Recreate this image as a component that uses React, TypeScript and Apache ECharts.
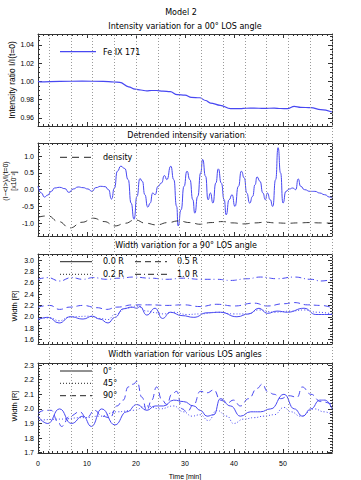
import React, { useEffect, useRef } from 'react';
import * as echarts from 'echarts';

// ---------- data ----------
const timeTickLabels = [0, 10, 20, 30, 40, 50];
const vLines = [2.25, 6.69, 11.13, 15.57, 20.01, 24.45, 28.89, 33.33, 37.77, 42.21, 46.65, 51.09, 55.53, 59.97];

const p1Ticks = [0.96, 0.98, 1.0, 1.02, 1.04];
const p2Ticks = [-1.0, -0.5, 0.0, 0.5, 1.0];
const p3Ticks = [1.6, 1.8, 2.0, 2.2, 2.4, 2.6, 2.8, 3.0];
const p4Ticks = [1.7, 1.8, 1.9, 2.0, 2.1, 2.2, 2.3];

const feIX171 = [
  [0, 1.0], [0.4, 0.9995], [4.5, 1.0], [9, 1.0003], [13.3, 1.0], [15.5, 0.9993], [16.7, 0.999],
  [18.5, 0.994], [19.8, 0.9914], [21, 0.9905], [22.2, 0.9895], [23.2, 0.99], [24.2, 0.99],
  [25.5, 0.9893], [27, 0.9887], [28.4, 0.9854], [30, 0.985], [31.3, 0.9825], [33, 0.982],
  [34.2, 0.979], [35.2, 0.9762], [37.2, 0.9737], [39.3, 0.97], [41.3, 0.97], [42.5, 0.9705],
  [44.1, 0.9707], [46.1, 0.9703], [48.2, 0.9707], [49.5, 0.9702], [50.9, 0.97], [52.3, 0.9726],
  [53.6, 0.9715], [55.7, 0.9711], [57.7, 0.969], [60, 0.9664],
];

const detrended = [
  [0.0, 0.1], [0.7, -0.1], [1.3, -0.22], [2.0, -0.16], [2.7, -0.05], [3.4, 0.05], [4.4, 0.07],
  [5.5, 0.03], [6.3, -0.08], [7.2, 0.02], [8.2, 0.08], [9.2, 0.06], [10.2, 0.02], [11.0, -0.05],
  [11.8, 0.06], [12.8, 0.1], [13.7, 0.09], [14.4, 0.0], [15.0, -0.28], [15.6, 0.05], [16.2, 0.55],
  [16.9, 0.7], [17.7, 0.63], [18.4, 0.3], [19.0, -0.4], [19.6, -0.88], [20.2, -0.2], [20.8, 0.33],
  [21.3, 0.25], [21.8, -0.15], [22.4, -0.52], [22.9, -0.4], [23.4, -0.1], [23.9, -0.15], [24.5, 0.1],
  [25.2, 0.2], [25.8, 0.42], [26.3, 0.3], [27.1, 0.7], [27.7, 0.3], [28.3, -0.5], [28.6, -1.08],
  [29.2, -0.6], [29.8, 0.1], [30.4, 0.55], [31.0, 0.3], [31.6, -0.3], [32.0, -0.7], [32.6, -0.2],
  [33.2, 0.5], [33.6, 0.9], [34.2, 0.4], [34.7, -0.3], [35.2, -0.1], [35.7, -0.4], [36.3, 0.2],
  [36.8, 0.62], [37.4, 0.2], [38.0, -0.3], [38.4, -0.75], [39.0, -0.3], [39.6, -0.15], [40.2, -0.5],
  [40.9, 0.1], [41.5, 0.55], [42.1, 0.35], [42.6, -0.1], [43.2, -0.4], [43.8, -0.2], [44.3, 0.15],
  [44.7, 0.38], [45.3, 0.25], [45.9, -0.1], [46.4, -0.3], [46.8, -0.1], [47.4, -0.3], [47.9, -0.5],
  [48.5, 0.3], [49.0, 1.25], [49.5, 0.5], [50.0, -0.4], [50.6, -0.05], [51.3, 0.02], [52.0, 0.05],
  [52.6, 0.0], [53.1, 0.32], [53.6, 0.1], [54.4, 0.0], [55.5, -0.05], [56.5, -0.05], [57.5, -0.1],
  [58.5, -0.15], [59.5, -0.22], [60.0, -0.25],
];

const density = [
  [0, -0.82], [2.0, -0.78], [4.2, -0.95], [6.5, -1.14], [9.0, -0.97], [11.3, -0.85], [13.5, -0.95],
  [15.7, -1.08], [17.8, -1.0], [19.8, -0.9], [22.0, -1.0], [24.2, -1.05], [26.5, -0.98], [28.7, -0.93],
  [31.0, -0.98], [33.1, -1.03], [35.3, -0.98], [37.6, -0.95], [39.8, -0.99], [42.0, -1.02],
  [44.2, -0.99], [46.4, -0.97], [48.6, -0.99], [50.9, -1.0], [53.1, -0.99], [55.3, -0.98],
  [57.7, -0.99], [60, -1.0],
];

const width00R = [
  [0, 1.95], [2.05, 1.99], [4.3, 1.89], [6.6, 2.0], [9.2, 1.96], [11.1, 2.01], [12.6, 1.96],
  [14.3, 1.89], [15.7, 1.99], [17.4, 2.14], [19.1, 2.17], [20.2, 2.15], [20.8, 2.18], [22.2, 2.03],
  [23.9, 2.15], [25.4, 1.97], [27.0, 2.08], [29.4, 2.02], [31.8, 1.99], [34.5, 2.07], [37.2, 2.08],
  [40.6, 2.0], [43.0, 2.05], [45.1, 2.15], [46.8, 2.06], [48.8, 2.1], [50.9, 2.08], [54.3, 2.15],
  [56.7, 2.04], [60, 2.04],
];
const width02R = [
  [0, 1.97], [2.4, 1.98], [4.3, 1.93], [6.6, 2.0], [10.6, 2.01], [12.6, 1.97], [14.3, 1.95],
  [15.7, 2.04], [18.1, 2.15], [20.2, 2.19], [22.2, 2.1], [24.2, 2.07], [25.6, 2.05], [27.7, 2.08],
  [30.4, 2.04], [33.1, 2.05], [36.5, 2.08], [40.0, 2.05], [42.7, 2.05], [45.1, 2.12], [48.2, 2.08],
  [51.6, 2.1], [54.3, 2.12], [57.0, 2.08], [60, 2.05],
];
const width05R = [
  [0, 2.17], [2.4, 2.2], [4.4, 2.13], [6.5, 2.17], [9.2, 2.2], [12.0, 2.16], [14.0, 2.13],
  [16.1, 2.17], [19.5, 2.21], [22.9, 2.21], [26.3, 2.2], [29.7, 2.21], [33.1, 2.18], [36.5, 2.22],
  [40.0, 2.19], [44.1, 2.24], [46.8, 2.19], [50.2, 2.23], [52.3, 2.25], [55.0, 2.21], [57.7, 2.2],
  [60, 2.16],
];
const width10R = [
  [0, 2.66], [2.0, 2.69], [4.4, 2.63], [6.8, 2.69], [9.2, 2.66], [11.3, 2.69], [14.0, 2.66],
  [16.7, 2.68], [19.5, 2.7], [22.9, 2.68], [26.3, 2.66], [29.7, 2.68], [33.1, 2.66], [36.5, 2.66],
  [39.3, 2.64], [42.7, 2.67], [45.4, 2.7], [48.8, 2.67], [52.3, 2.7], [55.7, 2.66], [57.7, 2.63],
  [60, 2.66],
];

const width0deg = [
  [0, 1.95], [2.0, 1.9], [4.4, 2.0], [6.8, 1.9], [9.2, 1.95], [10.9, 1.88], [13.0, 2.0],
  [15.7, 1.89], [18.1, 1.98], [20.2, 2.03], [22.2, 1.99], [23.9, 2.02], [25.6, 2.02], [27.7, 2.06],
  [29.7, 2.05], [31.8, 2.02], [33.1, 1.99], [34.5, 1.95], [35.9, 1.96], [37.2, 2.07], [39.3, 2.02],
  [41.3, 1.95], [43.4, 1.98], [45.4, 1.98], [47.5, 2.0], [50.2, 2.1], [52.3, 2.0], [54.0, 1.95],
  [55.7, 2.0], [57.5, 2.06], [58.6, 2.06], [60, 2.0],
];
const width45deg = [
  [0, 1.92], [4.4, 1.93], [9.2, 1.94], [12.6, 1.95], [16.1, 1.98], [19.5, 1.99], [22.2, 2.02],
  [24.9, 2.0], [27.7, 2.02], [29.7, 1.98], [31.4, 1.95], [33.1, 1.96], [34.8, 1.92], [36.5, 1.99],
  [38.6, 1.95], [39.9, 1.9], [42.0, 1.93], [44.1, 1.94], [46.1, 1.95], [48.2, 1.96], [50.2, 2.01],
  [51.6, 1.98], [53.6, 1.95], [56.4, 2.0], [58.4, 1.98], [60, 1.96],
];
const width90deg = [
  [0, 1.97], [1.4, 1.99], [2.7, 1.99], [4.1, 1.91], [4.8, 1.88], [6.5, 1.95], [8.5, 1.98],
  [9.9, 1.94], [11.6, 1.99], [13.0, 1.95], [14.7, 1.94], [16.1, 2.02], [17.4, 2.06], [18.4, 2.15],
  [19.5, 2.17], [20.2, 2.19], [21.2, 2.08], [22.2, 1.99], [23.2, 2.06], [24.2, 2.15], [25.3, 2.06],
  [26.3, 2.03], [27.3, 2.1], [28.3, 2.12], [29.4, 2.0], [30.4, 1.98], [31.8, 2.03], [33.1, 2.12],
  [34.5, 2.11], [35.9, 2.13], [37.2, 2.06], [38.6, 2.04], [39.9, 2.06], [41.3, 2.02], [43.0, 2.07],
  [44.7, 2.14], [45.8, 2.17], [46.8, 2.12], [48.2, 2.1], [49.5, 2.07], [51.2, 2.09], [52.9, 2.08],
  [53.9, 2.15], [55.7, 2.1], [57.7, 2.05], [60, 2.03],
];

// ---------- layout / style ----------
const BLUE = '#4848f2';
const AXIS = '#333';
const TICK_FONT = "'Liberation Sans Narrow', 'Liberation Sans', Arial, sans-serif";
const TEXT_FONT = "'DejaVu Sans', sans-serif";
const LAB_FONT = "'Liberation Sans', Arial, sans-serif";
const L = 38, W = 294;

const panels = [
  { top: 34, height: 92, min: 0.951, max: 1.052, ticks: p1Ticks, minorStep: 0.005, dec: 2 },
  { top: 143, height: 93, min: -1.38, max: 1.39, ticks: p2Ticks, minorStep: 0.1, dec: 1 },
  { top: 254, height: 90, min: 1.52, max: 3.106, ticks: p3Ticks, minorStep: 0.05, dec: 1 },
  { top: 363, height: 90, min: 1.698, max: 2.314, ticks: p4Ticks, minorStep: 0.02, dec: 1 },
];

function minorValues(min: number, max: number, step: number) {
  const out: number[] = [];
  const start = Math.ceil(min / step - 1e-9);
  for (let k = start; k * step <= max + 1e-9; k++) out.push(+(k * step).toFixed(4));
  return out;
}

function buildOption() {
  const grid: any[] = [];
  const xAxis: any[] = [];
  const yAxis: any[] = [];
  panels.forEach((p, g) => {
    grid.push({ left: L, top: p.top, width: W, height: p.height, containLabel: false });
    ['bottom', 'top'].forEach((pos) => {
      xAxis.push({
        type: 'value', gridIndex: g, position: pos, min: 0, max: 60, interval: 10,
        axisLine: { show: true, onZero: false, lineStyle: { color: AXIS, width: 1 } },
        axisTick: { show: true, inside: true, length: 4, lineStyle: { color: AXIS } },
        minorTick: { show: true, splitNumber: 10, length: 2, lineStyle: { color: AXIS } },
        splitLine: { show: false },
        axisLabel: g === 3 && pos === 'bottom'
          ? { show: true, customValues: timeTickLabels, margin: 7, color: '#000', fontSize: 7, fontFamily: LAB_FONT }
          : { show: false },
      });
    });
    const minors = minorValues(p.min, p.max, p.minorStep);
    ['left', 'right'].forEach((pos) => {
      yAxis.push({
        type: 'value', gridIndex: g, position: pos, min: p.min, max: p.max,
        axisLine: { show: true, onZero: false, lineStyle: { color: AXIS, width: 1 } },
        axisTick: { show: true, inside: true, length: 4, customValues: p.ticks, lineStyle: { color: AXIS } },
        splitLine: { show: false },
        axisLabel: pos === 'left'
          ? { show: true, customValues: p.ticks, margin: 4, color: '#000', fontSize: 7, fontFamily: TICK_FONT,
              formatter: (v: number) => v.toFixed(p.dec) }
          : { show: false },
      });
      yAxis.push({
        type: 'value', gridIndex: g, position: pos, min: p.min, max: p.max,
        axisLine: { show: false, onZero: false },
        axisTick: { show: true, inside: true, length: 2, customValues: minors, lineStyle: { color: AXIS } },
        splitLine: { show: false },
        axisLabel: { show: false },
      });
    });
  });
  // overlay grid for the vertical dotted lines
  grid.push({ left: L, top: 34, width: W, height: 419 });
  xAxis.push({ type: 'value', gridIndex: 4, min: 0, max: 60, show: false });
  yAxis.push({ type: 'value', gridIndex: 4, min: 0, max: 1, show: false });

  const ln = (name: string, data: number[][], g: number, color: string, type: any, width = 1, smooth = 0.5) => ({
    name, type: 'line', data, xAxisIndex: g * 2, yAxisIndex: g * 4, showSymbol: false, symbol: 'none',
    smooth, smoothMonotone: 'x', z: 3, lineStyle: { color, width, type },
  });

  const series: any[] = [
    {
      type: 'line', xAxisIndex: 8, yAxisIndex: 16, data: [[0, -1]], symbol: 'none', z: 1,
      lineStyle: { opacity: 0 },
      markLine: {
        silent: true, symbol: ['none', 'none'], label: { show: false },
        lineStyle: { color: '#9a9a9a', type: [1, 2], width: 1 },
        data: vLines.map((v) => ({ xAxis: v })),
      },
    },
    ln('Fe IX 171', feIX171, 0, BLUE, 'solid', 1.2, 0.4),
    ln('detrended', detrended, 1, BLUE, 'solid', 1, 0.6),
    ln('density', density, 1, '#222', [7, 5], 0.9, 0.5),
    ln('1.0 R', width10R, 2, BLUE, [6, 3, 1, 3], 1),
    ln('0.5 R', width05R, 2, BLUE, [6, 4], 1),
    ln('0.2 R', width02R, 2, BLUE, [1, 2], 1),
    ln('0.0 R', width00R, 2, BLUE, 'solid', 1),
    ln('90°', width90deg, 3, BLUE, [6, 4], 1),
    ln('45°', width45deg, 3, BLUE, [1, 2], 1),
    ln('0°', width0deg, 3, BLUE, 'solid', 1),
  ];

  const txt = (x: number, y: number, text: string, size: number, family = TEXT_FONT, align = 'left', rot = 0) => ({
    type: 'text', x, y, rotation: rot,
    style: { text, fontSize: size, fontFamily: family, fill: '#000', textAlign: align, textVerticalAlign: 'middle' },
  });
  const seg = (x1: number, x2: number, y: number, color: string, dash: any) => ({
    type: 'line', shape: { x1, y1: y, x2, y2: y },
    style: { stroke: color, lineWidth: 1, lineDash: dash },
  });

  const graphic: any[] = [
    txt(181, 12, 'Model 2', 8, TEXT_FONT, 'center'),
    txt(185, 26, 'Intensity variation for a 00° LOS angle', 8, TEXT_FONT, 'center'),
    txt(186, 135.7, 'Detrended intensity variation', 8, TEXT_FONT, 'center'),
    txt(186, 245, 'Width variation for a 90° LOS angle', 8, TEXT_FONT, 'center'),
    txt(185, 354, 'Width variation for various LOS angles', 8, TEXT_FONT, 'center'),
    txt(185, 476, 'Time [min]', 7, LAB_FONT, 'center'),
    txt(12, 80, 'Intensity ratio I/I(t=0)', 8.5, LAB_FONT, 'center', Math.PI / 2),
    txt(5.5, 181, '(I−<I>)/I(t=0)', 7, LAB_FONT, 'center', Math.PI / 2),
    txt(13, 181, '[x10⁻²]', 7, LAB_FONT, 'center', Math.PI / 2),
    txt(14, 306, 'Width [R]', 7.5, LAB_FONT, 'center', Math.PI / 2),
    txt(14, 406, 'Width [R]', 7.5, LAB_FONT, 'center', Math.PI / 2),
    // legends
    { type: 'line', shape: { x1: 60, y1: 51.7, x2: 96, y2: 51.7 }, style: { stroke: BLUE, lineWidth: 1.2 } },
    txt(103, 52, 'Fe IX 171', 8),
    seg(60, 93, 157.3, '#222', [7, 5]),
    txt(103, 157.3, 'density', 8),
    seg(60, 92, 261.7, '#222', null),
    txt(103, 261.7, '0.0 R', 8),
    seg(135, 167, 261.7, '#222', [6, 4]),
    txt(177, 261.7, '0.5 R', 8),
    seg(60, 92, 274.3, '#222', [1, 2]),
    txt(103, 274.3, '0.2 R', 8),
    seg(135, 167, 274.3, '#222', [6, 3, 1, 3]),
    txt(177, 274.3, '1.0 R', 8),
    seg(60, 92, 371, '#222', null),
    txt(103, 371, '0°', 8),
    seg(60, 92, 383.3, '#222', [1, 2]),
    txt(103, 383.3, '45°', 8),
    seg(60, 92, 395.7, '#222', [6, 4]),
    txt(103, 395.7, '90°', 8),
  ];

  return {
    animation: false,
    backgroundColor: '#fff',
    grid, xAxis, yAxis, series, graphic,
  };
}

export default function App() {
  const ref = useRef<HTMLDivElement>(null);
  useEffect(() => {
    const chart = echarts.init(ref.current!, null, { renderer: 'svg' });
    chart.setOption(buildOption() as any);
    return () => chart.dispose();
  }, []);
  return (
    <div
      ref={ref}
      style={{ position: 'absolute', left: 0, top: 0, width: 361, height: 480, background: '#fff' }}
    />
  );
}
